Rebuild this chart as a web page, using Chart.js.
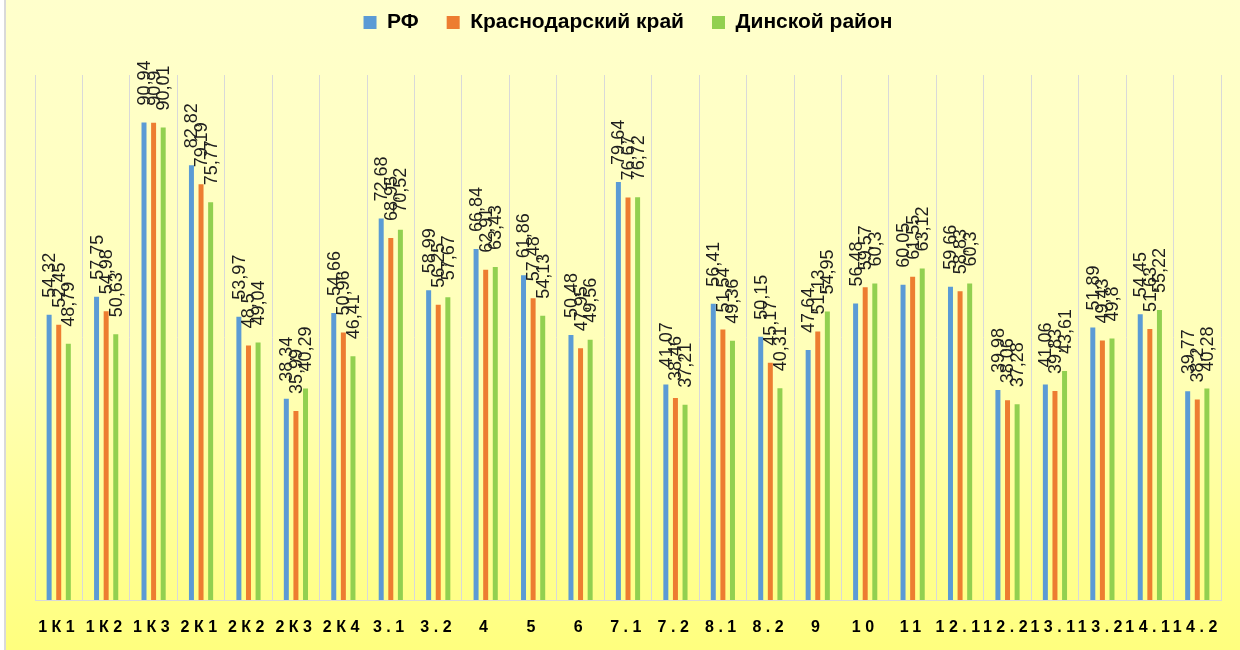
<!DOCTYPE html>
<html>
<head>
<meta charset="utf-8">
<script src="https://cdn.jsdelivr.net/npm/chart.js@4.4.1/dist/chart.umd.min.js"></script>
<style>
html,body{margin:0;padding:0;background:#fff;overflow:hidden;width:1240px;height:650px;}
#frame{position:absolute;left:4px;top:-2px;width:1240px;height:660px;border:2px solid #D9D9D9;
  background:linear-gradient(to bottom,#FFFFCC 0%,#FFFFB8 55%,#FFFF7C 100%);}
#c{position:absolute;left:0;top:0;}
</style>
</head>
<body>
<div id="frame"></div>
<canvas id="c" width="1240" height="650"></canvas>
<script>
const categories = ['1К1','1К2','1К3','2К1','2К2','2К3','2К4','3.1','3.2','4','5','6','7.1','7.2','8.1','8.2','9','10','11','12.1','12.2','13.1','13.2','14.1','14.2'];
const seriesNames = ['РФ','Краснодарский край','Динской район'];
const rfValues = [54.32,57.75,90.94,82.82,53.97,38.34,54.66,72.68,58.99,66.84,61.86,50.48,79.64,41.07,56.41,50.15,47.64,56.48,60.05,59.66,39.98,41.06,51.89,54.45,39.77];
const krayValues = [52.45,54.98,90.9,79.19,48.5,35.99,50.96,68.95,56.25,62.91,57.48,47.95,76.67,38.46,51.54,45.17,51.13,59.57,61.55,58.83,38.06,39.83,49.43,51.63,38.2];
const rayonValues = [48.79,50.63,90.01,75.77,49.04,40.29,46.41,70.52,57.67,63.43,54.13,49.56,76.72,37.21,49.36,40.31,54.95,60.3,63.12,60.3,37.28,43.61,49.8,55.22,40.28];
const seriesColors = ['#5B9BD5','#ED7D31','#92D050'];

const FONT = '"Liberation Sans", Arial, sans-serif';

class SpacedCategoryScale extends Chart.CategoryScale {
  drawLabels(chartArea) {
    const ctx = this.ctx;
    ctx.save();
    ctx.letterSpacing = '4.5px';
    super.drawLabels(chartArea);
    ctx.restore();
  }
}
SpacedCategoryScale.id = 'spacedCategory';
SpacedCategoryScale.defaults = Chart.CategoryScale.defaults;
Chart.register(SpacedCategoryScale);

const valueLabels = {
  id: 'valueLabels',
  afterDatasetsDraw(chart) {
    const ctx = chart.ctx;
    ctx.save();
    ctx.letterSpacing = '0px';
    ctx.font = '18px ' + FONT;
    ctx.fillStyle = '#1e1e1e';
    ctx.textAlign = 'left';
    ctx.textBaseline = 'middle';
    chart.data.datasets.forEach((ds, di) => {
      const meta = chart.getDatasetMeta(di);
      meta.data.forEach((bar, i) => {
        const txt = String(ds.data[i]).replace('.', ',');
        ctx.save();
        ctx.translate(bar.x + 1, bar.y - 17);
        ctx.rotate(-Math.PI / 2);
        ctx.fillText(txt, 0, 0);
        ctx.restore();
      });
    });
    ctx.restore();
  }
};

const allSeries = [rfValues, krayValues, rayonValues];

new Chart(document.getElementById('c').getContext('2d'), {
  type: 'bar',
  data: {
    labels: categories,
    datasets: allSeries.map((vals, i) => ({
      label: seriesNames[i],
      data: vals,
      backgroundColor: seriesColors[i],
      borderWidth: 0,
      categoryPercentage: 0.607,
      barPercentage: 0.52
    }))
  },
  options: {
    responsive: false,
    animation: false,
    layout: { padding: { left: 35, right: 19, top: -16, bottom: 0 } },
    plugins: {
      legend: {
        position: 'top', align: 'center', weight: 1000,
        labels: {
          font: { family: FONT, size: 21, weight: 'bold' },
          color: '#000', boxWidth: 13, boxHeight: 13, padding: 28
        }
      },
      subtitle: { display: true, text: '', weight: 500, font: { size: 10 }, padding: { top: 0, bottom: 20 } },
      tooltip: { enabled: false }
    },
    scales: {
      x: {
        type: 'spacedCategory',
        offset: true,
        grid: { offset: true, color: '#D9D9D9', lineWidth: 1, drawTicks: false },
        border: { display: true, color: '#D9D9D9', width: 1 },
        ticks: {
          autoSkip: false, maxRotation: 0, minRotation: 0, padding: 18,
          color: '#000', font: { family: FONT, size: 16, weight: 'bold' }
        },
        afterFit(s) { s.height = 50; }
      },
      y: { display: false, min: 0, max: 100 }
    }
  },
  plugins: [valueLabels]
});
</script>
</body>
</html>
